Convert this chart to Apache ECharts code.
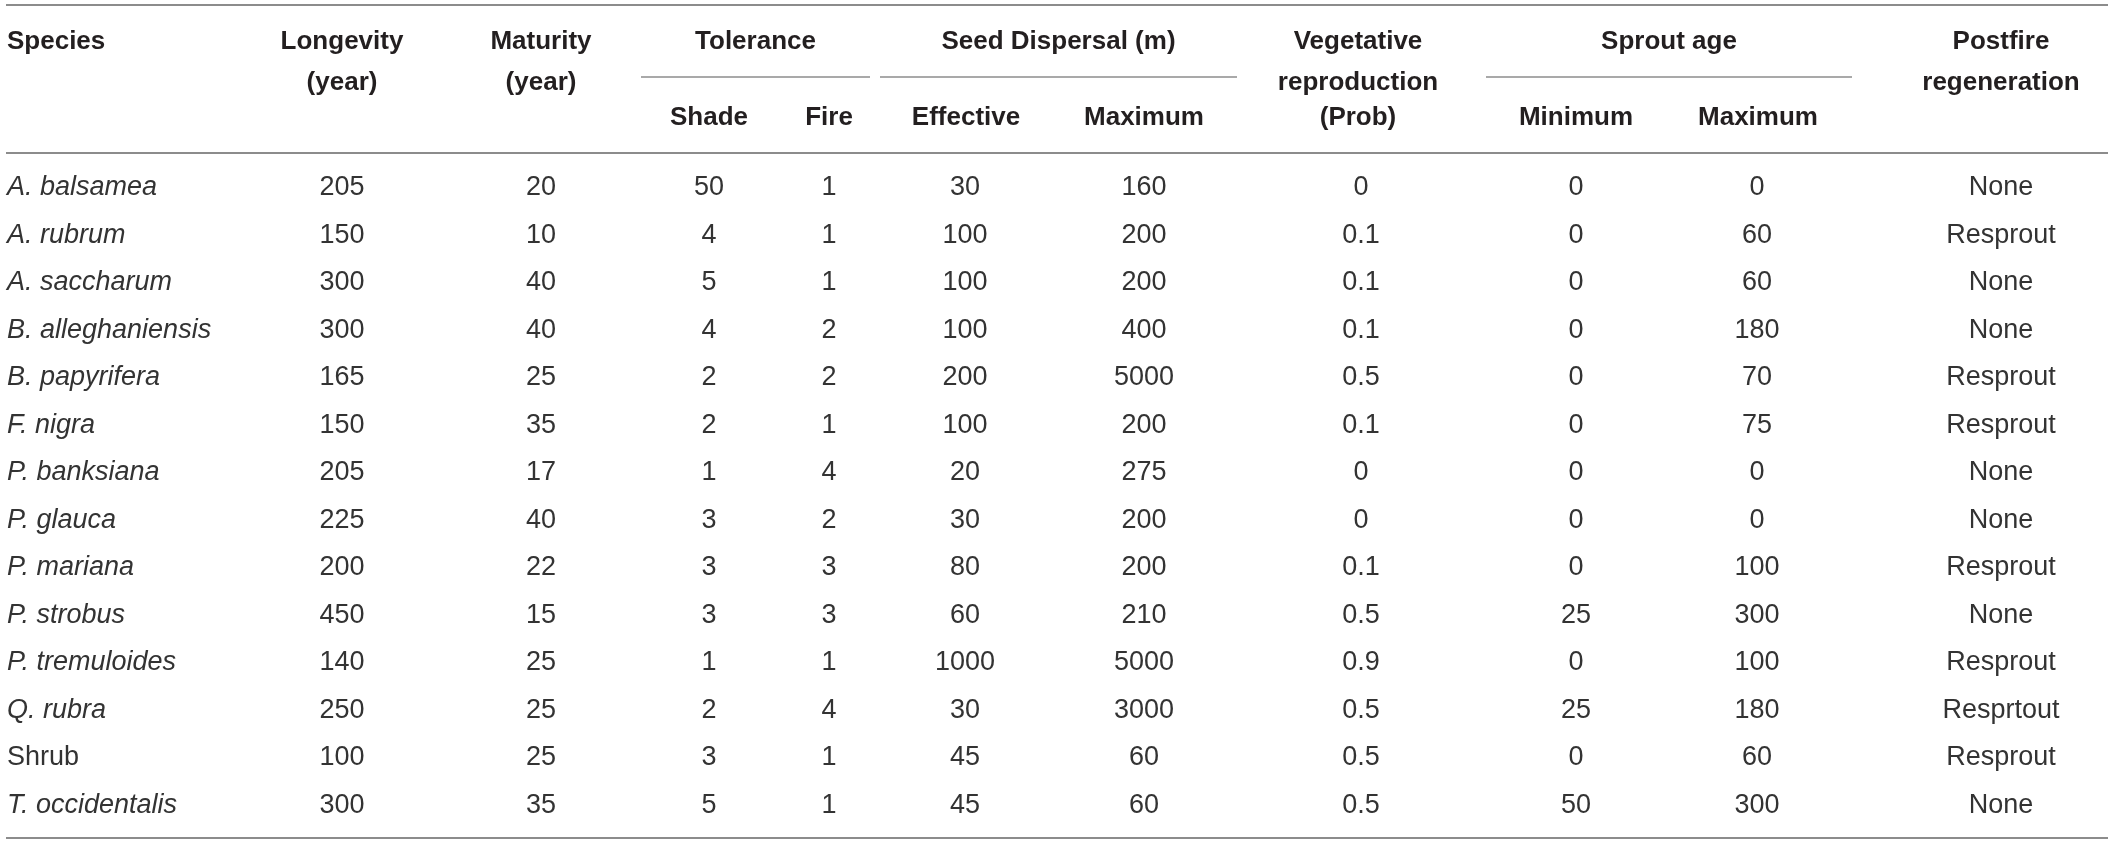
<!DOCTYPE html>
<html>
<head>
<meta charset="utf-8">
<script src="https://cdn.jsdelivr.net/npm/echarts@6/dist/echarts.min.js"></script>
<style>
  html, body { margin: 0; padding: 0; background: #fff; }
  #main { width: 2120px; height: 845px; }
</style>
</head>
<body>
<div id="main"></div>
<script>
// table data
var species = ["A. balsamea", "A. rubrum", "A. saccharum", "B. alleghaniensis", "B. papyrifera", "F. nigra",
    "P. banksiana", "P. glauca", "P. mariana", "P. strobus", "P. tremuloides", "Q. rubra", "Shrub", "T. occidentalis"];
var longevity = [205, 150, 300, 300, 165, 150, 205, 225, 200, 450, 140, 250, 100, 300];
var maturity = [20, 10, 40, 40, 25, 35, 17, 40, 22, 15, 25, 25, 25, 35];
var shadeTol = [50, 4, 5, 4, 2, 2, 1, 3, 3, 3, 1, 2, 3, 5];
var fireTol = [1, 1, 1, 2, 2, 1, 4, 2, 3, 3, 1, 4, 1, 1];
var seedEffective = [30, 100, 100, 100, 200, 100, 20, 30, 80, 60, 1000, 30, 45, 45];
var seedMaximum = [160, 200, 200, 400, 5000, 200, 275, 200, 200, 210, 5000, 3000, 60, 60];
var vegReproduction = [0, 0.1, 0.1, 0.1, 0.5, 0.1, 0, 0, 0.1, 0.5, 0.9, 0.5, 0.5, 0.5];
var sproutMin = [0, 0, 0, 0, 0, 0, 0, 0, 0, 25, 0, 25, 0, 50];
var sproutMax = [0, 60, 60, 180, 70, 75, 0, 0, 100, 300, 100, 180, 60, 300];
var postfire = ["None", "Resprout", "None", "None", "Resprout", "Resprout", "None", "None", "Resprout",
    "None", "Resprout", "Resprtout", "Resprout", "None"];

// header text
var topHeaders = [["Species"], ["Longevity", "(year)"], ["Maturity", "(year)"], ["Vegetative", "reproduction", "(Prob)"], ["Postfire", "regeneration"]];
var groupHeaders = ["Tolerance", "Seed Dispersal (m)", "Sprout age"];
var subHeaders = ["Shade", "Fire", "Effective", "Maximum", "Minimum", "Maximum"];

var columns = [species, longevity, maturity, shadeTol, fireTol, seedEffective, seedMaximum,
    vegReproduction, sproutMin, sproutMax, postfire];

// layout (px)
var W = 2120;
var colX = [7, 342, 541, 709, 829, 965, 1144, 1361, 1576, 1757, 2001];
var topX = [7, 342, 541, 1358, 2001];
var groupSpan = [[641, 870], [880, 1237], [1486, 1852]];
var subX = [709, 829, 966, 1144, 1576, 1758];
var lineY = [42, 83, 118];
var ruleColor = "#8c8c8c";
var headFont = "bold 26px 'Liberation Sans', Arial, sans-serif";
var bodyFont = "27px 'Liberation Sans', Arial, sans-serif";
var headColor = "#231f20";
var bodyColor = "#333333";

var chart = echarts.init(document.getElementById("main"));

var cells = [];
for (var c = 0; c < columns.length; c++) {
    for (var r = 0; r < species.length; r++) {
        cells.push([c, r]);
    }
}

var graphics = [];
function rule(x1, x2, y, w) {
    graphics.push({ type: "line", shape: { x1: x1, y1: y, x2: x2, y2: y }, style: { stroke: ruleColor, lineWidth: w } });
}
function headText(txt, x, y, align) {
    graphics.push({ type: "text", x: x, y: y, style: { text: txt, font: headFont, fill: headColor, align: align, verticalAlign: "middle" } });
}
rule(6, 2108, 5, 2);
rule(6, 2108, 153, 2);
rule(6, 2108, 838, 2);
topHeaders.forEach(function (lines, k) {
    lines.forEach(function (t, j) {
        headText(t, topX[k], lineY[j], k === 0 ? "left" : "center");
    });
});
groupHeaders.forEach(function (t, k) {
    var s = groupSpan[k];
    headText(t, (s[0] + s[1]) / 2, lineY[0], "center");
    rule(s[0], s[1], 77, 1.5);
});
subHeaders.forEach(function (t, k) {
    headText(t, subX[k], lineY[2], "center");
});

chart.setOption({
    animation: false,
    grid: { left: 0, right: 0, top: 164, bottom: 16 },
    xAxis: { type: "value", min: 0, max: W, show: false },
    yAxis: { type: "category", data: species, inverse: true, show: false },
    graphic: graphics,
    series: [{
        type: "custom",
        data: cells,
        renderItem: function (params, api) {
            var c = api.value(0), r = api.value(1);
            var pt = api.coord([colX[c], r]);
            var txt = String(columns[c][r]);
            var italic = c === 0 && txt.indexOf(".") >= 0;
            return {
                type: "text",
                x: pt[0],
                y: pt[1],
                style: {
                    text: txt,
                    font: (italic ? "italic " : "") + bodyFont,
                    fill: bodyColor,
                    align: c === 0 ? "left" : "center",
                    verticalAlign: "middle"
                }
            };
        }
    }]
});
</script>
</body>
</html>
